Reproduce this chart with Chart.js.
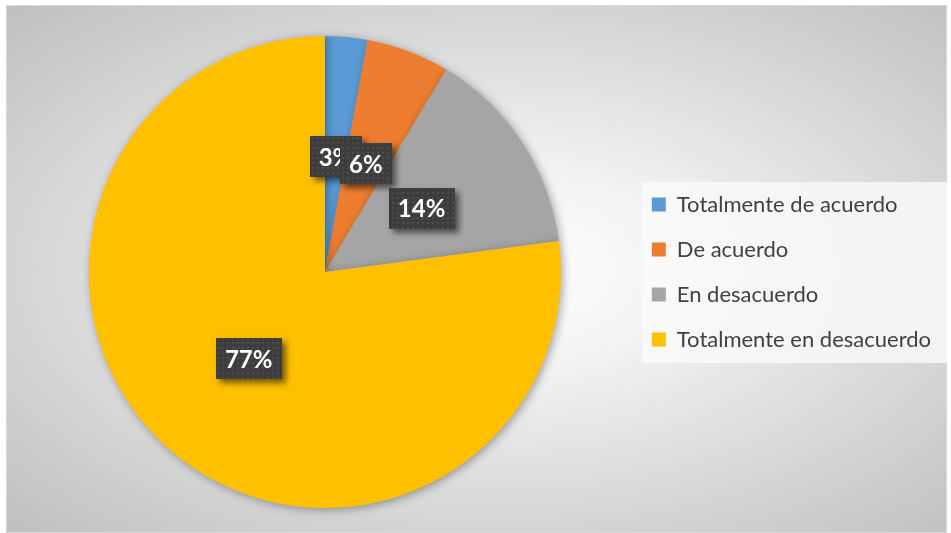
<!DOCTYPE html>
<html>
<head>
<meta charset="utf-8">
<script src="https://cdn.jsdelivr.net/npm/chart.js@4/dist/chart.umd.min.js"></script>
<style>
  html,body{margin:0;padding:0;background:#fff;}
  #wrap{position:relative;width:951px;height:533px;}
  #frame{position:absolute;left:6px;top:5px;width:939px;height:526px;border:1px solid #d9d9d9;
    background:radial-gradient(ellipse farthest-corner at 52% 50%, #ffffff 0%, #f4f4f4 25%, #bfbfbf 100%);}
  #chart{position:absolute;left:0;top:0;}
</style>
</head>
<body>
<div id="wrap">
  <div id="frame"></div>
  <canvas id="chart" width="951" height="533"></canvas>
</div>
<script>
/* ================= DATEN ================= */
const categories = ["Totalmente de acuerdo","De acuerdo","En desacuerdo","Totalmente en desacuerdo"];
const percents = [2.9, 5.7, 14.3, 77.1];
const colors = ["#5b9bd5","#ed7d31","#a5a5a5","#ffc000"];

/* ================= PLUGINS ================= */
// dunkles Punktmuster fuer die Etiketten
function makePattern(ctx){
    const c = document.createElement("canvas");
    c.width = 5; c.height = 5;
    const p = c.getContext("2d");
    p.fillStyle = "#3d3d3d"; p.fillRect(0,0,5,5);
    p.fillStyle = "#4d4d4d"; p.fillRect(2,2,2,2);
    return ctx.createPattern(c,"repeat");
}

// heller Hintergrund hinter der Legende (vor den Layout-Boxen zeichnen)
const legendBox = {
    id:"legendBox",
    beforeDraw(chart){
        const ctx = chart.ctx;
        ctx.save();
        ctx.fillStyle = "rgba(250,250,250,0.8)";
        ctx.fillRect(642,182,305,181);
        ctx.restore();
    }
};

const sliceShadow = {
    id:"sliceShadow",
    beforeDatasetsDraw(chart){
        const ctx = chart.ctx;
        ctx.save();
        ctx.shadowColor = "rgba(0,0,0,0.35)";
        ctx.shadowBlur = 10;
        ctx.shadowOffsetX = 2;
        ctx.shadowOffsetY = 2;
    },
    afterDatasetsDraw(chart){
        chart.ctx.restore();
    }
};

const valueLabels = {
    id:"valueLabels",
    afterDatasetsDraw(chart){
        const ctx = chart.ctx;
        const meta = chart.getDatasetMeta(0);
        const pat = makePattern(ctx);
        ctx.save();
        ctx.font = "bold 24px Lato, 'Open Sans', sans-serif";
        ctx.textAlign = "center";
        ctx.textBaseline = "middle";
        meta.data.forEach((arc,i)=>{
            const p = arc.getProps(["x","y","startAngle","endAngle","outerRadius"],true);
            const mid = (p.startAngle+p.endAngle)/2;
            const r = p.outerRadius*0.49;
            const x = p.x + Math.cos(mid)*r;
            const y = p.y + Math.sin(mid)*r;
            const txt = Math.round(percents[i])+"%";
            const w = ctx.measureText(txt).width + 18;
            const h = 41;
            ctx.save();
            ctx.shadowColor = "rgba(0,0,0,0.55)";
            ctx.shadowBlur = 6;
            ctx.shadowOffsetX = 4;
            ctx.shadowOffsetY = 4;
            ctx.fillStyle = pat;
            ctx.fillRect(Math.round(x-w/2),Math.round(y-h/2),Math.round(w),h);
            ctx.restore();
            ctx.fillStyle = "#ffffff";
            ctx.fillText(txt,x,y+1);
        });
        ctx.restore();
    }
};

/* ================= CHART ================= */
Chart.defaults.font.family = "Lato, 'Open Sans', sans-serif";
const chart = new Chart(document.getElementById("chart"),{
    type:"pie",
    data:{
        labels:categories,
        datasets:[{data:percents, backgroundColor:colors, borderWidth:0}]
    },
    options:{
        responsive:false,
        animation:false,
        layout:{padding:{left:21,top:36,bottom:25,right:10}},
        plugins:{
            tooltip:{enabled:false},
            legend:{
                position:"right",
                labels:{
                    boxWidth:14, boxHeight:14, padding:23,
                    color:"#404040",
                    font:{size:22}
                }
            }
        }
    },
    plugins:[legendBox,sliceShadow,valueLabels]
});
</script>
</body>
</html>
